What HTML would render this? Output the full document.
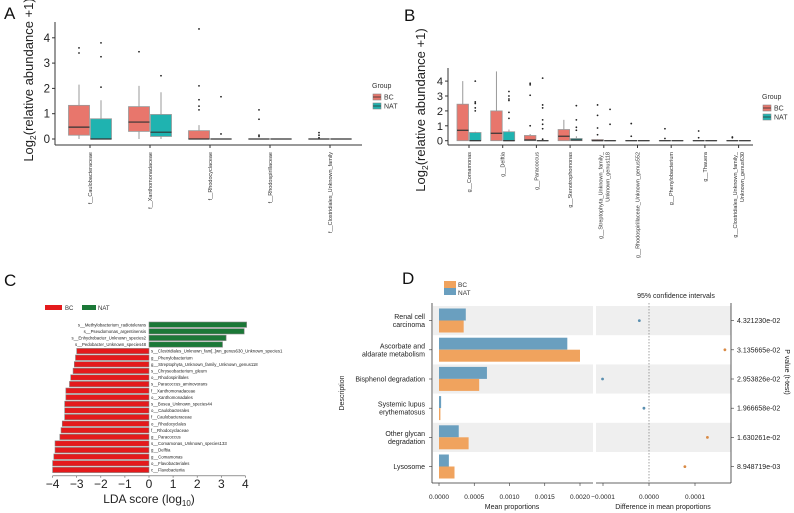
<!DOCTYPE html>
<html><head><meta charset="utf-8"><style>
html,body{margin:0;padding:0;background:#fff}
svg{display:block;font-family:"Liberation Sans",sans-serif}
</style></head><body>
<svg id="fig" width="794" height="513" viewBox="0 0 794 513" xmlns="http://www.w3.org/2000/svg"></svg>
<script>
// ---- Panel A data ----
const aCats = ["f__Caulobacteraceae","f__Xanthomonadaceae","f__Rhodocyclaceae","f__Rhodospirillaceae","f__Clostridiales_Unknown_family"];
const aBC = [[0,0.15,0.47,1.33,2.15],[0,0.3,0.67,1.28,2.1],[0,0,0,0.33,0.55],[0,0,0,0,0],[0,0,0,0,0]];
const aNAT = [[0,0,0,0.8,1.53],[0,0.1,0.27,0.97,1.85],[0,0,0,0,0],[0,0,0,0,0],[0,0,0,0,0]];
const aBCout = [[3.4,3.6],[3.45],[1.15,1.3,1.55,2.1,4.35],[0.1,0.15,0.78,1.15],[0.05,0.15,0.25]];
const aNATout = [[2.05,3.25,3.8],[2.5],[0.2,1.67],[],[]];
const aTicks = [0,1,2,3,4];
// ---- Panel B data ----
const bCats = ["g__Comamonas","g__Delftia","g__Paracoccus","g__Stenotrophomonas","g__Streptophyta_Unknown_family_\nUnknown_genus118","g__Rhodospirillaceae_Unknown_genus552","g__Phenylobacterium","g__Thauera","g__Clostridiales_Unknown_family_\nUnknown_genus630"];
const bBC = [[0,0,0.7,2.45,4],[0,0,0.5,2.0,4.65],[0,0,0.05,0.35,0.45],[0,0,0.3,0.75,1.4],[0,0,0,0.08,0.1],[0,0,0,0,0],[0,0,0,0,0],[0,0,0,0,0],[0,0,0,0,0]];
const bNAT = [[0,0,0,0.55,0.6],[0,0,0,0.6,0.75],[0,0,0,0,0],[0,0,0.05,0.15,0.3],[0,0,0,0,0],[0,0,0,0,0],[0,0,0,0,0],[0,0,0,0,0],[0,0,0,0,0]];
const bBCout = [[],[],[1,3.05,3.75,3.85],[],[0.4,0.85,1.7,2.4],[0.3,1.15],[0.15,0.8],[0.2,0.65],[0.2,0.25]];
const bNATout = [[2,2.2,2.5,2.6,4],[1.5,1.9,2.7,2.8,3.0,3.3],[0.1,0.8,1.1,1.4,2.2,2.4,4.2],[0.7,0.9,1.4,2.35],[1.1,2.1],[],[],[],[]];
const bTicks = [0,1,2,3,4];
// ---- Panel C data ----
const cLabels = ["s__Methylobacterium_radiotolerans","s__Pseudomonas_argentinensis","s__Enhydrobacter_Unknown_species2","s__Pedobacter_Unknown_species48","s__Clostridiales_Unknown_fam[..]wn_genus630_Unknown_species1","g__Phenylobacterium","g__Streptophyta_Unknown_family_Unknown_genus118","s__Chryseobacterium_gleum","o__Rhodospirillales","s__Paracoccus_aminovorans","f__Xanthomonadaceae","o__Xanthomonadales","s__Bosea_Unknown_species44","o__Caulobacterales","f__Caulobacteraceae","o__Rhodocyclales","f__Rhodocyclaceae","g__Paracoccus","s__Comamonas_Unknown_species133","g__Delftia","g__Comamonas","o__Flavobacteriales","c__Flavobacteriia"];
const cScores = [4.05,3.95,3.2,3.05,-3.0,-3.05,-3.1,-3.15,-3.25,-3.3,-3.45,-3.45,-3.5,-3.5,-3.5,-3.6,-3.65,-3.7,-3.9,-3.9,-3.95,-4.0,-4.0];
const cTicks = [-4,-3,-2,-1,0,1,2,3,4];
// ---- Panel D data ----
const dCats = ["Renal cell\ncarcinoma","Ascorbate and\naldarate metabolism","Bisphenol degradation","Systemic lupus\nerythematosus","Other glycan\ndegradation","Lysosome"];
const dNAT = [0.00038,0.00182,0.00068,0.00003,0.00028,0.00014];
const dBC = [0.00035,0.0020,0.00057,0.00002,0.00042,0.00022];
const dDiff = [-0.000021,0.000165,-0.000101,-0.000011,0.000127,0.000078];
const dP = ["4.321230e-02","3.135665e-02","2.953826e-02","1.966658e-02","1.630261e-02","8.948719e-03"];
const dLTicks = [0,0.0005,0.001,0.0015,0.002];
const dLTickLbl = ["0.0000","0.0005","0.0010","0.0015","0.0020"];
const dRTicks = [-0.0001,0,0.0001];
const dRTickLbl = ["\u22120.0001","0.0000","0.0001"];

const svg = document.getElementById('fig');
const NS = "http://www.w3.org/2000/svg";
function mk(tag, attrs, parent, text){
  const e = document.createElementNS(NS, tag);
  for (const k in attrs) e.setAttribute(k, attrs[k]);
  if (text !== undefined) e.textContent = text;
  (parent || svg).appendChild(e);
  return e;
}
function grp(name){ const g = mk('g', {});   return g; }

const RED = "#e8766c", TEAL = "#1fb3b0";

function boxPanel(g, cats, BC, NAT, BCo, NATo, ticks, o){
  const y = v => o.y0 - v*o.k;
  mk('line',{x1:o.ax,y1:o.yTop,x2:o.ax,y2:o.axY,stroke:"#333","stroke-width":1},g);
  mk('line',{x1:o.ax,y1:o.axY,x2:o.xEnd,y2:o.axY,stroke:"#333","stroke-width":1},g);
  ticks.forEach(t=>{
    mk('line',{x1:o.ax-3,y1:y(t),x2:o.ax,y2:y(t),stroke:"#333"},g);
    const tl = mk('text',{x:o.ax-5,y:y(t)+4,"font-size":o.fs,"text-anchor":"end",fill:"#222"},g,t);
     
  });
  cats.forEach((c,i)=>{
    const cx = o.c0 + i*o.sp;
    mk('line',{x1:cx,y1:o.axY,x2:cx,y2:o.axY+3,stroke:"#333"},g);
    [[BC,BCo,RED,-1],[NAT,NATo,TEAL,1]].forEach(([D,O,col,s])=>{
      const d = D[i]; const bx = cx + (s<0 ? -o.bw-0.5 : 0.5);
      const m = bx + o.bw/2;
      mk('line',{x1:m,y1:y(d[0]),x2:m,y2:y(d[4]),stroke:"#999","stroke-width":1},g);
      const r = mk('rect',{x:bx,y:y(d[3]),width:o.bw,height:Math.max(0.01,y(d[1])-y(d[3])),fill:col,stroke:"#999","stroke-width":0.8},g);
       
      mk('line',{x1:bx,y1:y(d[2]),x2:bx+o.bw,y2:y(d[2]),stroke:"#333","stroke-width":1.2},g);
      O[i].forEach(v=>{ const p=mk('circle',{cx:m,cy:y(v),r:0.9,fill:"#222"},g);   });
    });
    const lines = c.split("\n");
    lines.forEach((ln,j)=>{
      const lx = cx - (lines.length-1)*3.5 + j*7 + 2;
      const t = mk('text',{x:lx,y:o.axY+7,"font-size":o.lfs,"text-anchor":"end",fill:"#333",transform:`rotate(-90 ${lx} ${o.axY+7})`},g,ln);
       
    });
  });
  const yt = mk('text',{x:o.tx,y:o.ty,"font-size":o.tfs,"text-anchor":"middle",fill:"#222",transform:`rotate(-90 ${o.tx} ${o.ty})`},g);
   
  mk('tspan',{},yt,"Log"); mk('tspan',{"font-size":o.tfs*0.65,dy:3},yt,"2"); mk('tspan',{dy:-3},yt,"(relative abundance +1)");
  const lg = mk('g',{},g);  
  mk('text',{x:o.lx,y:o.ly,"font-size":7,fill:"#333"},lg,"Group");
  [["BC",RED],["NAT",TEAL]].forEach(([n,col],j)=>{
    const yy = o.ly+6+j*9;
    mk('rect',{x:o.lx+1,y:yy,width:8,height:6,fill:col,stroke:"#888","stroke-width":0.6},lg);
    mk('line',{x1:o.lx+1,y1:yy+3,x2:o.lx+9,y2:yy+3,stroke:"#333","stroke-width":0.8},lg);
    mk('text',{x:o.lx+12,y:yy+5.5,"font-size":7,fill:"#333"},lg,n);
  });
}

const gA = grp('panel-a-boxplot');
mk('text',{x:4,y:19,"font-size":17,fill:"#111"},gA,"A");
boxPanel(gA,aCats,aBC,aNAT,aBCout,aNATout,aTicks,{ax:55,yTop:22,axY:145,xEnd:362,y0:139,k:25.3,c0:90,sp:60,bw:21,fs:11.5,lfs:5.5,tx:33,ty:80,tfs:13,lx:372,ly:88});
const gB = grp('panel-b-boxplot');
mk('text',{x:404,y:21,"font-size":17,fill:"#111"},gB,"B");
boxPanel(gB,bCats,bBC,bNAT,bBCout,bNATout,bTicks,{ax:448,yTop:68,axY:145,xEnd:753,y0:140.7,k:14.9,c0:469,sp:33.7,bw:11.5,fs:11,lfs:5.5,tx:425,ty:110,tfs:13,lx:762,ly:99});

const gC = grp('panel-c-lda');
mk('text',{x:4,y:286,"font-size":17,fill:"#111"},gC,"C");
const cx0 = 149, ck = 24.1, cy0 = 322, cstep = 6.6, cbh = 5.4;
const cX = v => cx0 + v*ck;
const cl = mk('g',{},gC);  
mk('rect',{x:45,y:305,width:17,height:5,fill:"#e41a1c"},cl); mk('text',{x:65,y:310,"font-size":6,fill:"#333"},cl,"BC");
mk('rect',{x:82,y:305,width:14,height:5,fill:"#1b7837"},cl); mk('text',{x:98,y:310,"font-size":6,fill:"#333"},cl,"NAT");
cScores.forEach((v,i)=>{
  const yy = cy0 + i*cstep;
  const r = mk('rect',{x:Math.min(cX(v),cx0),y:yy,width:Math.abs(cX(v)-cx0),height:cbh,fill:v>0?"#1b7837":"#e41a1c",stroke:"#888","stroke-width":0.6},gC);
   
  const t = mk('text',{x:v>0?cx0-3:cx0+2,y:yy+4.3,"font-size":4.3,"text-anchor":v>0?"end":"start",fill:"#222"},gC,cLabels[i]);
   
});
const cAxY = cy0 + cScores.length*cstep + 2;
mk('line',{x1:cX(-4),y1:cAxY,x2:cX(4),y2:cAxY,stroke:"#555","stroke-width":0.6},gC);
cTicks.forEach(t=>{
  mk('line',{x1:cX(t),y1:cAxY,x2:cX(t),y2:cAxY+2,stroke:"#555","stroke-width":0.6},gC);
  const tl = mk('text',{x:cX(t),y:488,"font-size":12,"text-anchor":"middle",fill:"#222"},gC,t<0?"\u2212"+(-t):t);
   
});
const ct = mk('text',{x:cx0,y:503,"font-size":12,"text-anchor":"middle",fill:"#222"},gC);
 
mk('tspan',{},ct,"LDA score (log"); mk('tspan',{"font-size":8,dy:3},ct,"10"); mk('tspan',{dy:-3},ct,")");

const gD = grp('panel-d-stamp');
mk('text',{x:402,y:284,"font-size":17,fill:"#111"},gD,"D");
const dl = mk('g',{},gD);  
mk('rect',{x:444,y:281,width:12,height:7,fill:"#f0a35e"},dl); mk('text',{x:458,y:287,"font-size":6.5,fill:"#333"},dl,"BC");
mk('rect',{x:444,y:288,width:12,height:7,fill:"#6a9fbf"},dl); mk('text',{x:458,y:295,"font-size":6.5,fill:"#333"},dl,"NAT");
const L0 = 439, Lk = 70500, R0 = 649, Rk = 460000;
const lx = v => L0 + v*Lk, rx = v => R0 + v*Rk;
const rowTop = 306, rowH = 29.2;
dCats.forEach((c,i)=>{
  const yy = rowTop + i*rowH;
  if (i%2===0){
    mk('rect',{x:433,y:yy,width:160,height:rowH,fill:"#efefef"},gD);
    mk('rect',{x:596,y:yy,width:135,height:rowH,fill:"#efefef"},gD);
  }
});
mk('line',{x1:R0,y1:303,x2:R0,y2:483,stroke:"#666","stroke-width":0.6,"stroke-dasharray":"1.5,1.5"},gD);
dCats.forEach((c,i)=>{
  const yy = rowTop + i*rowH, cy = yy + rowH/2;
  const b1 = mk('rect',{x:L0,y:yy+2.5,width:lx(dNAT[i])-L0,height:12,fill:"#6a9fbf"},gD);
   
  const b2 = mk('rect',{x:L0,y:yy+14.5,width:lx(dBC[i])-L0,height:12,fill:"#f0a35e"},gD);
   
  const p = mk('circle',{cx:rx(dDiff[i]),cy:cy,r:1.4,fill:dDiff[i]<0?"#5a8fb0":"#d98a45"},gD);
   
  mk('line',{x1:429,y1:cy,x2:432,y2:cy,stroke:"#333","stroke-width":0.6},gD);
  const lines = c.split("\n");
  lines.forEach((ln,j)=>{
    const t = mk('text',{x:425,y:cy+2.5-(lines.length-1)*4+j*8,"font-size":7,"text-anchor":"end",fill:"#222"},gD,ln);
     
  });
  mk('line',{x1:731,y1:cy,x2:734,y2:cy,stroke:"#333","stroke-width":0.6},gD);
  const pv = mk('text',{x:737,y:cy+2.5,"font-size":7,fill:"#222"},gD,dP[i]);
   
});
mk('line',{x1:432,y1:303,x2:432,y2:483,stroke:"#333","stroke-width":0.8},gD);
mk('line',{x1:432,y1:483,x2:593,y2:483,stroke:"#333","stroke-width":0.8},gD);
mk('line',{x1:596,y1:483,x2:731,y2:483,stroke:"#333","stroke-width":0.8},gD);
mk('line',{x1:731,y1:303,x2:731,y2:483,stroke:"#333","stroke-width":0.8},gD);
dLTicks.forEach((t,i)=>{
  mk('line',{x1:lx(t),y1:483,x2:lx(t),y2:486,stroke:"#333","stroke-width":0.6},gD);
  mk('text',{x:lx(t),y:499,"font-size":6.5,"text-anchor":"middle",fill:"#222"},gD,dLTickLbl[i]);
});
dRTicks.forEach((t,i)=>{
  mk('line',{x1:rx(t),y1:483,x2:rx(t),y2:486,stroke:"#333","stroke-width":0.6},gD);
  mk('text',{x:rx(t),y:499,"font-size":6.5,"text-anchor":"middle",fill:"#222"},gD,dRTickLbl[i]);
});
mk('text',{x:512,y:509,"font-size":7,"text-anchor":"middle",fill:"#222"},gD,"Mean proportions");
mk('text',{x:663,y:509,"font-size":7,"text-anchor":"middle",fill:"#222"},gD,"Difference in mean proportions");
mk('text',{x:676,y:298,"font-size":7,"text-anchor":"middle",fill:"#222"},gD,"95% confidence intervals");
mk('text',{x:344,y:393,"font-size":7,"text-anchor":"middle",fill:"#222",transform:"rotate(-90 344 393)"},gD,"Description");
mk('text',{x:785,y:372,"font-size":7,"text-anchor":"middle",fill:"#222",transform:"rotate(90 785 372)"},gD,"P value (t-test)");
</script>
</body></html>
